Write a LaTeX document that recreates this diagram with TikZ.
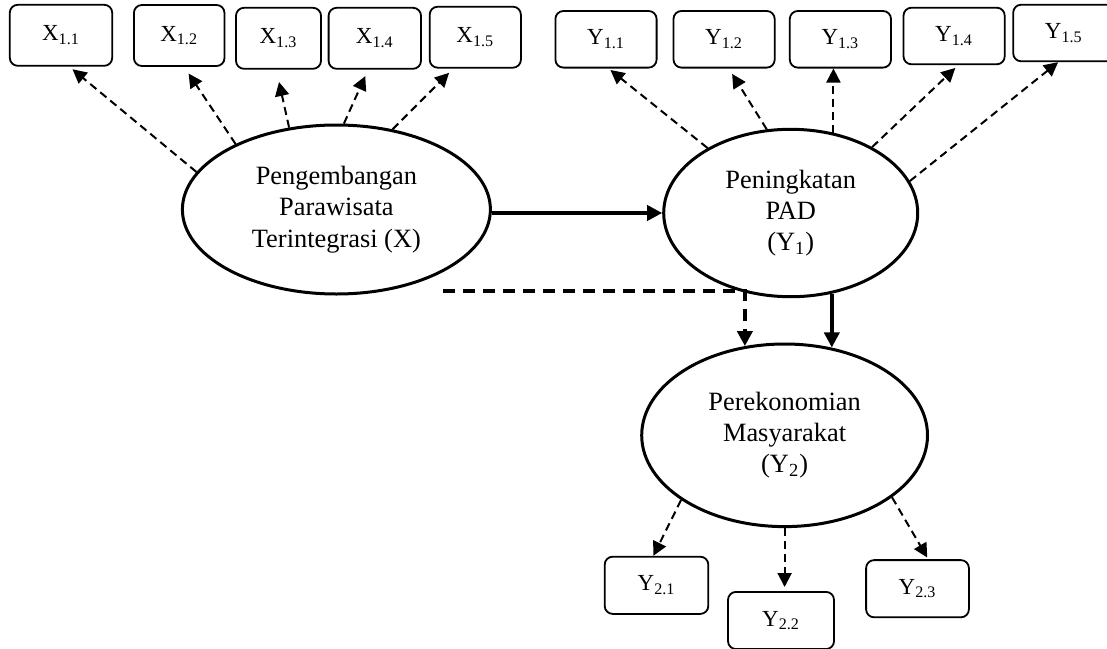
\documentclass[tikz,border=0pt]{standalone}
\usepackage{fontspec}
\setmainfont{Liberation Serif}
\usetikzlibrary{arrows.meta,shapes.geometric}

\begin{document}
\begin{tikzpicture}[x=0.5pt,y=-0.5pt,
    latent/.style={ellipse,draw,line width=1.5pt,align=center,inner sep=0pt,
        font=\fontsize{13.2}{15.6}\selectfont},
    indbox/.style={draw,rounded corners=4pt,line width=0.9pt,inner sep=0pt,
        font=\fontsize{11.5}{13}\selectfont},
    loading/.style={dash pattern=on 4pt off 2.5pt,line width=1pt,
        -{Triangle[length=7pt,width=7pt]}},
    effect/.style={line width=1.8pt,-{Triangle[length=7.5pt,width=7.5pt]}},
    mediated/.style={dash pattern=on 6pt off 4pt,line width=2pt,
        -{Triangle[length=7.5pt,width=7.5pt]}}]
    \useasboundingbox (0,0) rectangle (1107,648);
    \clip (0,0) rectangle (1107,648);

    \node[latent,minimum width=154pt,minimum height=84.5pt] (X) at (336.4,209.5)
        {Pengembangan\\Parawisata\\Terintegrasi (X)};
    \node[latent,minimum width=127pt,minimum height=83.7pt] (Y1) at (790.7,213)
        {Peningkatan\\PAD\\(Y\textsubscript{1})};
    \node[latent,minimum width=142.9pt,minimum height=91.3pt] (Y2) at (784.6,435.3)
        {Perekonomian\\Masyarakat\\(Y\textsubscript{2})};

    \foreach \cx/\cy/\w/\n/\t in {61/35.3/51.2/x11/1.1, 179.2/35.5/45.3/x12/1.2,
        278.5/38.3/42.5/x13/1.3, 374.8/38.3/46.2/x14/1.4, 475.3/37.2/45.6/x15/1.5}
        \node[indbox,minimum width=\w pt,minimum height=30.5pt] (\n) at (\cx,\cy) {X\textsubscript{\t}};
    \foreach \cx/\cy/\n/\t in {606/39.3/y11/1.1, 724.1/39.3/y12/1.2, 840.4/39.3/y13/1.3,
        954.1/36/y14/1.4, 1063.8/33/y15/1.5}
        \node[indbox,minimum width=50.6pt,minimum height=28.3pt] (\n) at (\cx,\cy) {Y\textsubscript{\t}};
    \foreach \cx/\cy/\w/\n/\t in {656.5/585.3/51.8/y21/2.1, 781/620.5/53/y22/2.2, 917.5/588.7/51.4/y23/2.3}
        \node[indbox,minimum width=\w pt,minimum height=28.6pt] (\n) at (\cx,\cy) {Y\textsubscript{\t}};

    \foreach \a/\b/\s/\n in {165/-75/2/x11, 147/-81/4/x12, 120/-94/6.3/x13, 85/-102/3.5/x14, 55/-125/3/x15}
        \draw[loading,shorten >=\s pt] (X.\a) -- (\n.\b);
    \foreach \a/\b/\s/\n in {142/-85/1.2/y11, 106/-81/3.2/y12, 39/-82/2/y14, 15/-101.5/0/y15}
        \draw[loading,shorten >=\s pt] (Y1.\a) -- (\n.\b);
    \draw[loading] (Y1.62) -- (Y1.62 |- y13.south);
    \draw[loading] (Y2.212) -- (y21.96);
    \draw[loading,shorten >=2pt] (Y2.south) -- (Y2.south |- y22.north);
    \draw[loading,shorten >=1pt] (Y2.-30) -- (y23.70);

    \draw[effect] (X.east |- Y1.west) -- (Y1.west);
    \draw[effect] (Y1.-63) -- (Y1.-63 |- Y2.62);
    \coordinate (split) at (442.8,290.7);
    \draw[mediated] (split) -| (Y2.114);
\end{tikzpicture}
\end{document}
